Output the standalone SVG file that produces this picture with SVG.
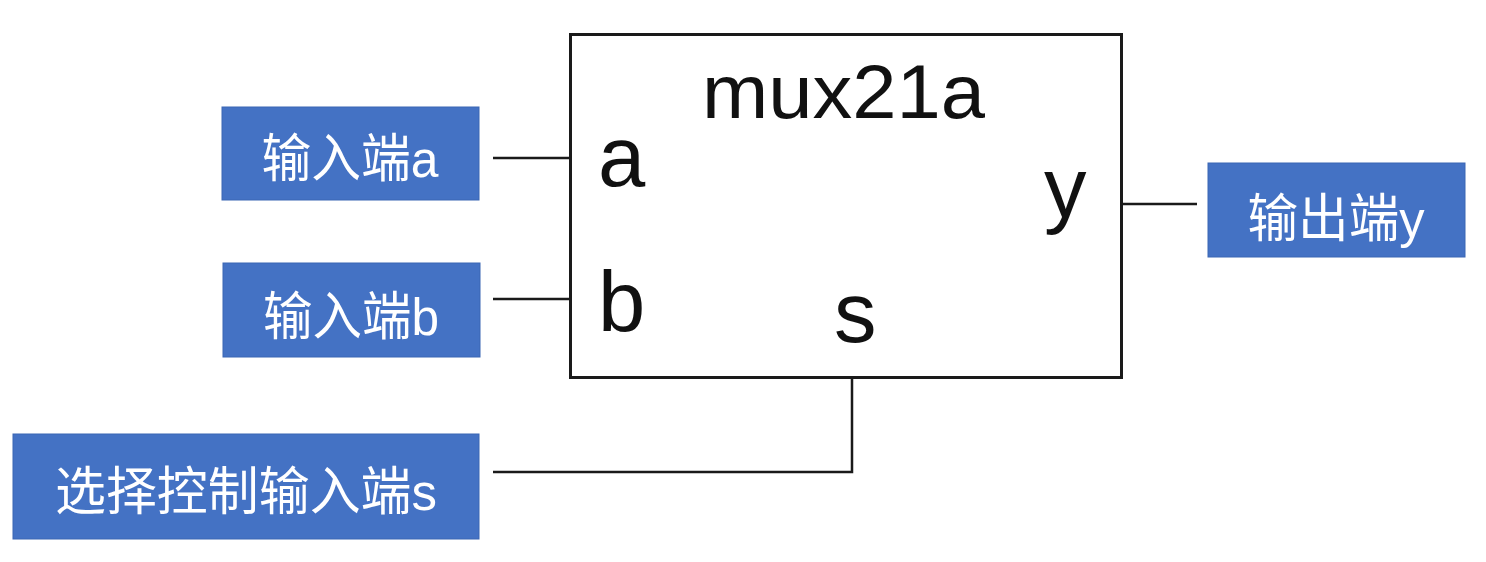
<svg xmlns="http://www.w3.org/2000/svg" width="1486" height="562" viewBox="0 0 1486 562">
  <style>
    .lbl { fill: #4472C4; stroke: #3b66b4; stroke-width: 1; }
    .lbltxt { fill: #ffffff; font-family: "Liberation Sans", "Noto Sans CJK SC", sans-serif; font-size: 52px; text-anchor: middle; }
    .pin { fill: #111111; font-family: "Liberation Sans", Arial, sans-serif; font-size: 85px; }
    .wire { fill: none; stroke: #1a1a1a; stroke-width: 2.5; }
  </style>
  <rect x="0" y="0" width="1486" height="562" fill="#ffffff"/>

  <g id="connectors">
    <line class="wire" x1="493" y1="158" x2="571" y2="158"/>
    <line class="wire" x1="493" y1="299" x2="571" y2="299"/>
    <polyline class="wire" points="493,472 852,472 852,378"/>
    <line class="wire" x1="1121" y1="204" x2="1197" y2="204"/>
  </g>

  <g id="mux21a">
    <rect x="570.5" y="34.5" width="551" height="343" fill="#ffffff" stroke="#1a1a1a" stroke-width="3"/>
    <text x="702" y="118" font-family="Liberation Sans, Arial, sans-serif" font-size="76" fill="#111111" textLength="283" lengthAdjust="spacingAndGlyphs">mux21a</text>
    <text class="pin" x="598" y="186">a</text>
    <text class="pin" x="598" y="331">b</text>
    <text class="pin" x="834" y="342">s</text>
    <text class="pin" x="1044" y="217">y</text>
  </g>

  <g id="input-a">
    <rect class="lbl" x="222" y="107" width="257" height="93"/>
    <text class="lbltxt" x="350" y="177" textLength="177" lengthAdjust="spacingAndGlyphs">输入端a</text>
  </g>

  <g id="input-b">
    <rect class="lbl" x="223" y="263" width="257" height="94"/>
    <text class="lbltxt" x="351" y="335" textLength="176" lengthAdjust="spacingAndGlyphs">输入端b</text>
  </g>

  <g id="input-s">
    <rect class="lbl" x="13" y="434" width="466" height="105"/>
    <text class="lbltxt" x="246" y="510" textLength="382" lengthAdjust="spacingAndGlyphs">选择控制输入端s</text>
  </g>

  <g id="output-y">
    <rect class="lbl" x="1208" y="163" width="257" height="94"/>
    <text class="lbltxt" x="1336" y="237" textLength="177" lengthAdjust="spacingAndGlyphs">输出端y</text>
  </g>
</svg>
